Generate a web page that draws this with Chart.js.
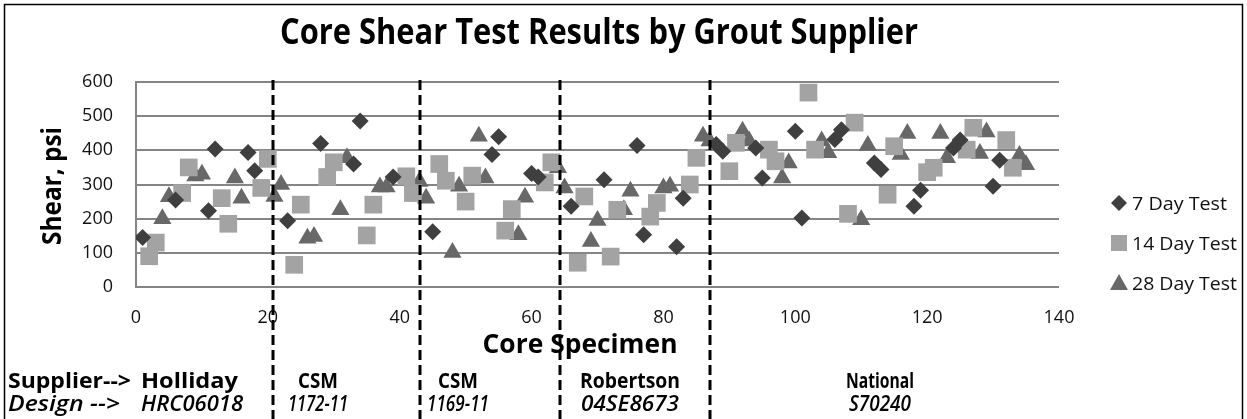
<!DOCTYPE html>
<html lang="en">
<head>
    <meta charset="UTF-8">
    <title>Core Shear Test Results by Grout Supplier</title>
    <script src="https://cdn.jsdelivr.net/npm/chart.js"></script>
    <style>
        html, body { margin: 0; padding: 0; background: #fff; }
        #wrap { width: 1247px; height: 419px; }
    </style>
</head>
<body>
    <div id="wrap"><canvas id="shear" width="1247" height="419"></canvas></div>

    <script>
        // specimen number / shear (psi) for each test age
        const day7X = [1, 6, 11, 12, 17, 18, 23, 28, 33, 34, 39, 45, 54, 55, 60, 61, 66, 71, 76, 77, 82, 83, 88, 89, 94, 95, 100, 101, 106, 107, 112, 113, 118, 119, 124, 125, 130, 131];
        const day7Y = [145, 255, 223, 404, 394, 340, 194, 420, 360, 486, 322, 162, 388, 440, 332, 322, 236, 314, 414, 153, 118, 260, 417, 397, 407, 319, 456, 202, 432, 460, 363, 344, 236, 283, 407, 430, 295, 371];

        const day14X = [2, 3, 7, 8, 13, 14, 19, 20, 24, 25, 29, 30, 35, 36, 41, 42, 46, 47, 50, 51, 56, 57, 62, 63, 67, 68, 72, 73, 78, 79, 84, 85, 90, 91, 96, 97, 102, 103, 108, 109, 114, 115, 120, 121, 126, 127, 132, 133];
        const day14Y = [90, 130, 275, 350, 260, 185, 290, 375, 65, 241, 322, 365, 151, 241, 324, 275, 360, 311, 250, 326, 165, 228, 306, 365, 71, 265, 89, 226, 206, 246, 300, 378, 339, 422, 402, 368, 569, 402, 214, 481, 270, 412, 336, 349, 402, 466, 430, 349];

        const day28X = [4, 5, 9, 10, 15, 16, 21, 22, 26, 27, 31, 32, 37, 38, 43, 44, 48, 49, 52, 53, 58, 59, 64, 65, 69, 70, 74, 75, 80, 81, 86, 87, 92, 93, 98, 99, 104, 105, 110, 111, 116, 117, 122, 123, 128, 129, 134, 135];
        const day28Y = [200, 264, 325, 330, 319, 260, 265, 300, 143, 148, 226, 378, 293, 293, 309, 260, 101, 295, 441, 319, 153, 263, 349, 290, 133, 195, 226, 280, 290, 295, 441, 427, 456, 427, 319, 363, 427, 393, 197, 414, 388, 449, 449, 378, 391, 454, 385, 358];

        const seriesNames = ['7 Day Test', '14 Day Test', '28 Day Test'];
        const xTicks = [0, 20, 40, 60, 80, 100, 120, 140];
        const yTicks = [0, 100, 200, 300, 400, 500, 600];

        // supplier boundaries (specimen number) and the labels under each block
        const dividers = [20.8, 43.1, 64.3, 87.1];
        const suppliers = ['Holliday', 'CSM', 'CSM', 'Robertson', 'National'];
        const designs = ['HRC06018', '1172-11', '1169-11', '04SE8673', 'S70240'];

        const colors = ['#3f3f3f', '#a3a3a3', '#686868'];
        const FONT = '"Open Sans", "Liberation Sans", sans-serif';

        function toPoints(xs, ys) {
            return xs.map((x, i) => ({ x: x, y: ys[i] }));
        }

        // draw text squeezed/stretched horizontally to a given width
        function fitText(ctx, text, x, y, font, width, align) {
            ctx.save();
            ctx.font = font;
            ctx.textBaseline = 'alphabetic';
            ctx.textAlign = align || 'center';
            const w = ctx.measureText(text).width;
            ctx.translate(x, y);
            ctx.scale(width / w, 1);
            ctx.fillText(text, 0, 0);
            ctx.restore();
        }

        function marker(ctx, kind, x, y, color) {
            ctx.save();
            ctx.fillStyle = color;
            ctx.beginPath();
            if (kind === 'diamond') {
                ctx.moveTo(x, y - 8); ctx.lineTo(x + 8, y); ctx.lineTo(x, y + 8); ctx.lineTo(x - 8, y);
            } else if (kind === 'square') {
                ctx.rect(x - 8, y - 8, 16, 16);
            } else {
                ctx.moveTo(x, y - 9); ctx.lineTo(x + 9, y + 7); ctx.lineTo(x - 9, y + 7);
            }
            ctx.closePath();
            ctx.fill();
            ctx.restore();
        }

        const decorations = {
            id: 'decorations',
            afterDraw(chart) {
                const ctx = chart.ctx;
                const xs = chart.scales.x;
                const area = chart.chartArea;

                // frame
                ctx.save();
                ctx.strokeStyle = '#000';
                ctx.lineWidth = 1.5;
                ctx.beginPath();
                ctx.moveTo(4.5, 419); ctx.lineTo(4.5, 4.5); ctx.lineTo(1242.5, 4.5); ctx.lineTo(1242.5, 419);
                ctx.stroke();

                // supplier separators
                ctx.lineWidth = 3;
                ctx.setLineDash([10, 5]);
                dividers.forEach(d => {
                    const px = Math.round(xs.getPixelForValue(d));
                    ctx.beginPath();
                    ctx.moveTo(px, area.top - 2);
                    ctx.lineTo(px, 419);
                    ctx.stroke();
                });
                ctx.restore();

                ctx.fillStyle = '#000';
                fitText(ctx, 'Core Shear Test Results by Grout Supplier', 599, 44, 'bold 35px ' + FONT, 638);
                fitText(ctx, 'Core Specimen', 580, 353, 'bold 27px ' + FONT, 195);

                ctx.save();
                ctx.translate(61, 186);
                ctx.rotate(-Math.PI / 2);
                fitText(ctx, 'Shear, psi', 0, 0, 'bold 26px ' + FONT, 118);
                ctx.restore();

                // legend
                const kinds = ['diamond', 'square', 'triangle'];
                const legendW = [95, 105, 105];
                seriesNames.forEach((name, i) => {
                    const y = 203 + i * 40;
                    marker(ctx, kinds[i], 1119, y, colors[i]);
                    ctx.fillStyle = '#111';
                    fitText(ctx, name, 1132, y + 7, '19px ' + FONT, legendW[i], 'left');
                });

                // supplier / design rows
                ctx.fillStyle = '#000';
                const bold = 'bold 21px ' + FONT;
                const ital = 'italic 600 21px ' + FONT;
                const centers = [0, 318, 458, 630, 880];
                const supW = [97, 40, 40, 100, 68];
                const desW = [102, 60, 62, 98, 62];
                fitText(ctx, 'Supplier-->', 8, 388, bold, 123, 'left');
                fitText(ctx, 'Design -->', 8, 411, ital, 112, 'left');
                suppliers.forEach((s, i) => {
                    if (i === 0) {
                        fitText(ctx, s, 141, 388, bold, supW[i], 'left');
                        fitText(ctx, designs[i], 141, 411, ital, desW[i], 'left');
                    } else {
                        fitText(ctx, s, centers[i], 388, bold, supW[i]);
                        fitText(ctx, designs[i], centers[i], 411, ital, desW[i]);
                    }
                });
            }
        };

        new Chart(document.getElementById('shear'), {
            type: 'scatter',
            data: {
                datasets: [{
                    label: seriesNames[0],
                    data: toPoints(day7X, day7Y),
                    pointStyle: 'rectRot',
                    pointRadius: 8.5,
                    backgroundColor: colors[0],
                    borderWidth: 0
                }, {
                    label: seriesNames[1],
                    data: toPoints(day14X, day14Y),
                    pointStyle: 'rect',
                    pointRadius: 12.5,
                    backgroundColor: colors[1],
                    borderWidth: 0
                }, {
                    label: seriesNames[2],
                    data: toPoints(day28X, day28Y),
                    pointStyle: 'triangle',
                    pointRadius: 10.5,
                    backgroundColor: colors[2],
                    borderWidth: 0
                }]
            },
            options: {
                responsive: false,
                animation: false,
                layout: { padding: { top: 82, right: 188, left: 0, bottom: 0 } },
                plugins: {
                    legend: { display: false },
                    tooltip: { enabled: false }
                },
                scales: {
                    x: {
                        type: 'linear',
                        min: xTicks[0],
                        max: xTicks[xTicks.length - 1],
                        afterFit: (s) => { s.height = 132; },
                        afterBuildTicks: (s) => { s.ticks = xTicks.map(v => ({ value: v })); },
                        grid: { display: false, drawTicks: false },
                        border: { display: false },
                        ticks: { padding: 20, color: '#111', font: { family: FONT, size: 18 } }
                    },
                    y: {
                        min: yTicks[0],
                        max: yTicks[yTicks.length - 1],
                        afterFit: (s) => { s.width = 136; },
                        afterBuildTicks: (s) => { s.ticks = yTicks.map(v => ({ value: v })); },
                        grid: { color: '#858585', lineWidth: 2, drawTicks: false },
                        border: { display: true, color: '#858585', width: 2 },
                        ticks: { padding: 23, color: '#111', font: { family: FONT, size: 18 } }
                    }
                }
            },
            plugins: [decorations]
        });
    </script>
</body>
</html>
